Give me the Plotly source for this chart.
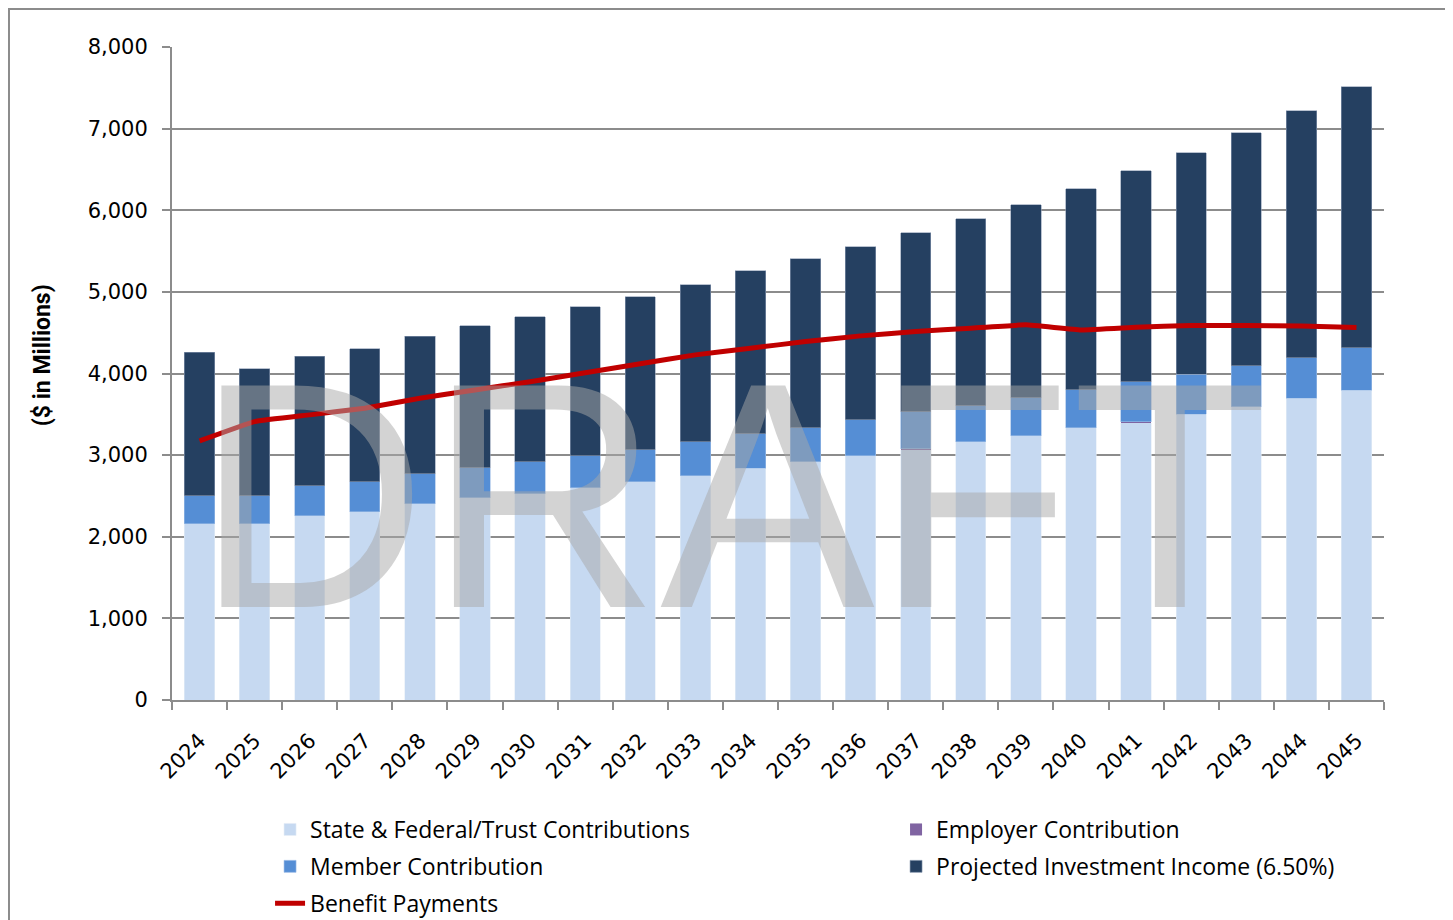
import plotly.graph_objects as go

# -- datos del grafico (lectura aproximada de la imagen), $ en millones
years = [str(y) for y in range(2024, 2046)]

state_federal = [2157, 2157, 2255, 2304, 2402, 2475, 2525, 2598, 2672, 2745, 2839,
                 2917, 2990, 3068, 3162, 3235, 3333, 3399, 3501, 3595, 3697, 3795]
employer = [0, 0, 0, 0, 0, 0, 0, 0, 0, 0, 0,
            0, 0, 8, 0, 0, 0, 8, 0, 0, 0, 0]
member = [343, 343, 371, 368, 368, 368, 392, 392, 392, 417, 421,
          416, 441, 453, 441, 466, 466, 493, 490, 498, 494, 519]
investment = [1761, 1560, 1586, 1633, 1687, 1740, 1777, 1830, 1879, 1928, 2001,
              2071, 2120, 2194, 2292, 2365, 2463, 2583, 2712, 2855, 3027, 3198]
benefits = [3174, 3411, 3493, 3575, 3697, 3799, 3900, 4010, 4120, 4228, 4310,
            4391, 4461, 4514, 4555, 4596, 4534, 4567, 4587, 4587, 4583, 4563]

y_ticks = [0, 1000, 2000, 3000, 4000, 5000, 6000, 7000, 8000]

fig = go.Figure()
fig.add_trace(go.Bar(x=years, y=state_federal, name="State & Federal/Trust Contributions",
                     legend="legend", legendgroup="g1",
                     marker=dict(color="#C6D9F1", line=dict(color="#E4ECF7", width=0.6))))
fig.add_trace(go.Bar(x=years, y=employer, name="Employer Contribution",
                     legend="legend2", legendgroup="g2",
                     marker=dict(color="#8064A2", line=dict(width=0))))
fig.add_trace(go.Bar(x=years, y=member, name="Member Contribution",
                     legend="legend", legendgroup="g3",
                     marker=dict(color="#558ED5", line=dict(color="#9DBCE6", width=0.6))))
fig.add_trace(go.Bar(x=years, y=investment, name="Projected Investment Income (6.50%)",
                     legend="legend2", legendgroup="g4",
                     marker=dict(color="#254061", line=dict(color="#8A9AB0", width=0.6))))
fig.add_trace(go.Scatter(x=years, y=benefits, name="Benefit Payments", mode="lines",
                         legend="legend", legendgroup="g5",
                         line=dict(color="#C00000", width=5, shape="spline", smoothing=0.3)))

# marca de agua
fig.add_annotation(text="DRAFT", xref="paper", yref="paper", x=0.4615, y=0.035,
                   showarrow=False, font=dict(family="Liberation Sans", size=322,
                                              color="rgba(168,168,168,0.5)"))

# titulo del eje y
fig.add_annotation(text="<b>($ in Millions)</b>", xref="paper", yref="paper",
                   x=-0.1073, y=0.528, xanchor="center", yanchor="middle",
                   textangle=-90, showarrow=False,
                   font=dict(family="Roboto", size=23, color="black"))

# marco exterior
fig.add_shape(type="rect", xref="paper", yref="paper", x0=-0.1345, x1=1.2, y0=-0.5, y1=1.0582,
              line=dict(color="#8C8C8C", width=2), fillcolor="rgba(0,0,0,0)", layer="below")

legend_font = dict(family="Open Sans", size=23, color="black")
fig.update_layout(
    barmode="stack",
    bargap=0.45,
    width=1453, height=920,
    margin=dict(l=164, r=77, t=39, b=228, autoexpand=False),
    plot_bgcolor="white", paper_bgcolor="white",
    font=dict(family="DejaVu Sans", size=21, color="black"),
    legend=dict(orientation="v", x=0.0809, y=-0.1654, xanchor="left", yanchor="top",
                tracegroupgap=4, font=legend_font),
    legend2=dict(orientation="v", x=0.5974, y=-0.1654, xanchor="left", yanchor="top",
                 tracegroupgap=4, font=legend_font),
    showlegend=True,
)
fig.update_xaxes(type="category", tickangle=-45, ticks="outside", ticklen=8, tickwidth=2,
                 tickcolor="#8C8C8C", tickson="boundaries", showline=True,
                 linecolor="#8C8C8C", linewidth=2, showgrid=False, ticklabelstandoff=18,
                 tickfont=dict(family="DejaVu Sans", size=21))
fig.update_yaxes(range=[0, 8000], tickvals=y_ticks, tickformat=",d", ticks="outside",
                 ticklen=8, tickwidth=2, tickcolor="#8C8C8C", showline=True,
                 linecolor="#8C8C8C", linewidth=2, gridcolor="#8C8C8C", gridwidth=2,
                 ticklabelstandoff=10, zeroline=False,
                 tickfont=dict(family="DejaVu Sans", size=21))

fig.write_html("out.html")
